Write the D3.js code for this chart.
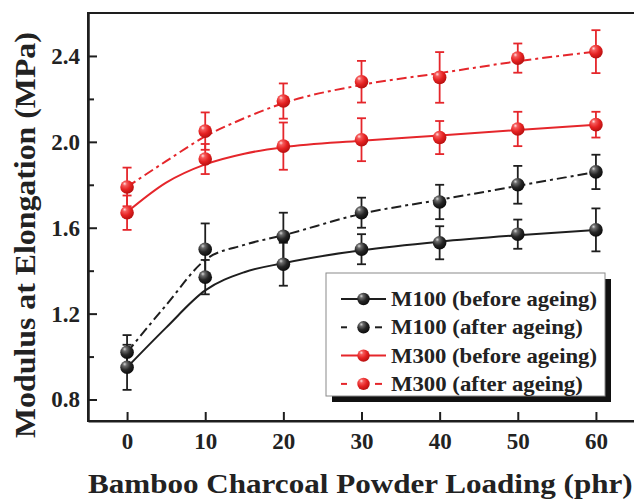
<!DOCTYPE html>
<html>
<head>
<meta charset="utf-8">
<script src="https://cdn.jsdelivr.net/npm/d3@7/dist/d3.min.js"></script>
<style>
  html, body { margin: 0; padding: 0; background: #fff; }
  svg { display: block; }
  text { font-family: "Liberation Serif", "Times New Roman", serif; font-weight: bold; fill: #222; }
</style>
</head>
<body>
<script>
// ---- data ----
const loading = [0, 10, 20, 30, 40, 50, 60];
const m100Before = [0.95, 1.37, 1.43, 1.50, 1.53, 1.57, 1.59];
const m100BeforeErr = [0.105, 0.08, 0.10, 0.07, 0.077, 0.068, 0.10];
const m100After = [1.02, 1.50, 1.56, 1.67, 1.72, 1.80, 1.86];
const m100AfterErr = [0.08, 0.12, 0.11, 0.07, 0.08, 0.088, 0.08];
const m300Before = [1.67, 1.92, 1.98, 2.01, 2.02, 2.06, 2.08];
const m300BeforeErr = [0.08, 0.07, 0.11, 0.10, 0.077, 0.08, 0.06];
const m300After = [1.79, 2.05, 2.19, 2.28, 2.30, 2.39, 2.42];
const m300AfterErr = [0.09, 0.087, 0.082, 0.097, 0.118, 0.068, 0.10];

// fitted curves
const fitX = [0, 5, 10, 15, 20, 30, 40, 50, 60];
const m100BeforeFit = [0.95, 1.135, 1.308, 1.393, 1.435, 1.495, 1.535, 1.565, 1.59];
const m100AfterFit = [1.02, 1.24, 1.45, 1.52, 1.565, 1.665, 1.73, 1.795, 1.86];
const m300BeforeFit = [1.673, 1.81, 1.895, 1.945, 1.975, 2.005, 2.03, 2.055, 2.08];
const m300AfterFit = [1.79, 1.91, 2.025, 2.11, 2.18, 2.265, 2.32, 2.375, 2.42];

const seriesNames = ["M100 (before ageing)", "M100 (after ageing)", "M300 (before ageing)", "M300 (after ageing)"];
const xTicks = [0, 10, 20, 30, 40, 50, 60];
const yMajorTicks = [0.8, 1.2, 1.6, 2.0, 2.4];
const yMinorTicks = [1.0, 1.4, 1.8, 2.2];
const xTitle = "Bamboo Charcoal Powder Loading (phr)";
const yTitle = "Modulus at Elongation (MPa)";

// ---- layout ----
const W = 634, H = 500;
const L = 88, T = 13, R = 635, B = 421;
const RED = "#e5262b", BLACK = "#1e1e1e";
const DASH = "10,4,3,4";

const series = [
  { name: seriesNames[0], y: m100Before, e: m100BeforeErr, fit: m100BeforeFit, color: BLACK, dashed: false, grad: "gBlack" },
  { name: seriesNames[1], y: m100After, e: m100AfterErr, fit: m100AfterFit, color: BLACK, dashed: true, grad: "gBlack" },
  { name: seriesNames[2], y: m300Before, e: m300BeforeErr, fit: m300BeforeFit, color: RED, dashed: false, grad: "gRed" },
  { name: seriesNames[3], y: m300After, e: m300AfterErr, fit: m300AfterFit, color: RED, dashed: true, grad: "gRed" }
];

const svg = d3.select("body").append("svg").attr("width", W).attr("height", H);

const defs = svg.append("defs");
function grad(id, stops) {
  const g = defs.append("radialGradient").attr("id", id)
    .attr("cx", "38%").attr("cy", "32%").attr("r", "68%").attr("fx", "32%").attr("fy", "26%");
  stops.forEach(s => g.append("stop").attr("offset", s[0]).attr("stop-color", s[1]));
}
grad("gBlack", [["0%", "#d8d8d8"], ["22%", "#6a6a6a"], ["60%", "#262626"], ["100%", "#0c0c0c"]]);
grad("gRed", [["0%", "#ffe0e0"], ["22%", "#f55a5a"], ["60%", "#e52222"], ["100%", "#b81010"]]);

// horizontally stretch a text (placed at x0,y0 in a group) to a target width
function wideText(parent, str, size, x0, y0, target, rotate, anchorMiddle) {
  const g = parent.append("g");
  const t = g.append("text").attr("font-size", size).text(str);
  const w = t.node().getComputedTextLength();
  const k = target / w;
  if (anchorMiddle) t.attr("x", -w / 2);
  g.attr("transform", `translate(${x0},${y0})${rotate ? " rotate(-90)" : ""} scale(${k},1)`);
  return g;
}

const x = d3.scaleLinear().domain([-5, 65]).range([L, R]);
const y = d3.scaleLinear().domain([0.7, 2.6]).range([B, T]);

// frame
svg.append("rect").attr("x", L).attr("y", T).attr("width", R - L).attr("height", B - T)
  .attr("fill", "none").attr("stroke", BLACK).attr("stroke-width", 2);

// axes (ticks pointing inward)
const xAxis = svg.append("g").attr("transform", `translate(0,${B})`)
  .call(d3.axisBottom(x).tickValues(xTicks).tickSizeInner(-9).tickSizeOuter(0).tickPadding(12).tickFormat(d3.format("d")));
const yAxis = svg.append("g").attr("transform", `translate(${L},0)`)
  .call(d3.axisLeft(y).tickValues(yMajorTicks).tickSizeInner(-9).tickSizeOuter(0).tickPadding(8).tickFormat(d3.format(".1f")));
const yMinor = svg.append("g").attr("transform", `translate(${L},0)`)
  .call(d3.axisLeft(y).tickValues(yMinorTicks).tickSizeInner(-6).tickSizeOuter(0).tickFormat(""));
[xAxis, yAxis, yMinor].forEach(g => {
  g.select(".domain").attr("stroke", BLACK).attr("stroke-width", 2);
  g.selectAll(".tick line").attr("stroke", BLACK).attr("stroke-width", 2);
  g.selectAll(".tick text").attr("font-size", 23).attr("font-family", "Liberation Serif").attr("font-weight", "bold").attr("fill", "#222");
});

// titles
wideText(svg, xTitle, 28, 88, 493, 545, false, false);
wideText(svg, yTitle, 30, 35, 235, 406, true, true);

// fitted lines
const line = d3.line().x((d, i) => x(fitX[i])).y(d => y(d)).curve(d3.curveMonotoneX);
series.forEach(s => {
  svg.append("path").datum(s.fit).attr("d", line).attr("fill", "none")
    .attr("stroke", s.color).attr("stroke-width", 2)
    .attr("stroke-dasharray", s.dashed ? DASH : null);
});

// error bars
series.forEach(s => {
  const g = svg.append("g").attr("stroke", s.color).attr("stroke-width", 1.8);
  loading.forEach((lx, i) => {
    const cx = x(lx), y1 = y(s.y[i] - s.e[i]), y2 = y(s.y[i] + s.e[i]);
    g.append("line").attr("x1", cx).attr("x2", cx).attr("y1", y1).attr("y2", y2);
    g.append("line").attr("x1", cx - 4.5).attr("x2", cx + 4.5).attr("y1", y1).attr("y2", y1);
    g.append("line").attr("x1", cx - 4.5).attr("x2", cx + 4.5).attr("y1", y2).attr("y2", y2);
  });
});

// markers
series.forEach(s => {
  svg.append("g").selectAll("circle").data(s.y).join("circle")
    .attr("cx", (d, i) => x(loading[i])).attr("cy", d => y(d)).attr("r", 6.8)
    .attr("fill", `url(#${s.grad})`);
});

// legend
const lg = svg.append("g");
const lx0 = 326, ly0 = 273, lw = 279, lh = 123;
lg.append("rect").attr("x", lx0 + 6).attr("y", ly0 + 6).attr("width", lw).attr("height", lh).attr("fill", "#111");
lg.append("rect").attr("x", lx0).attr("y", ly0).attr("width", lw).attr("height", lh)
  .attr("fill", "#fff").attr("stroke", "#8a8a8a").attr("stroke-width", 1);
const legendW = [206, 192, 206, 192];
series.forEach((s, i) => {
  const cy = 299 + i * 28.3;
  if (s.dashed) {
    lg.append("line").attr("x1", 341).attr("x2", 347).attr("y1", cy).attr("y2", cy).attr("stroke", s.color).attr("stroke-width", 2);
    lg.append("line").attr("x1", 375).attr("x2", 382).attr("y1", cy).attr("y2", cy).attr("stroke", s.color).attr("stroke-width", 2);
  } else {
    lg.append("line").attr("x1", 341).attr("x2", 386).attr("y1", cy).attr("y2", cy).attr("stroke", s.color).attr("stroke-width", 2);
  }
  lg.append("circle").attr("cx", 363.5).attr("cy", cy).attr("r", 6.2).attr("fill", `url(#${s.grad})`);
  wideText(lg, s.name, 22, 391, cy + 7, legendW[i], false, false);
});
</script>
</body>
</html>
